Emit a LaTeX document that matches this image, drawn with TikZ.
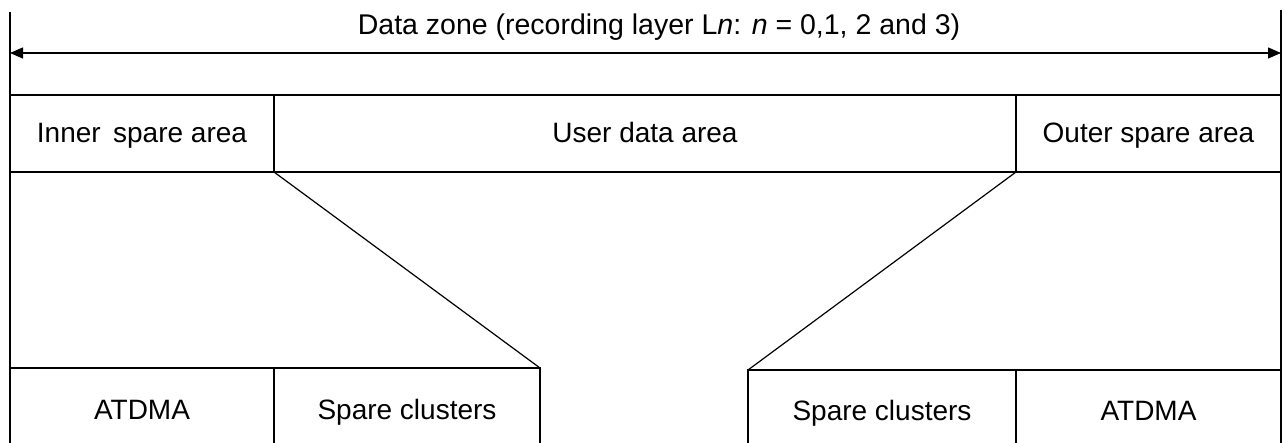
\documentclass[tikz,border=0pt]{standalone}
\usepackage{fontspec}
\setmainfont{Liberation Sans}
\usetikzlibrary{arrows.meta}
\begin{document}
\begin{tikzpicture}[x=1pt,y=-1pt,
  lbl/.style={font=\fontsize{28}{31}\selectfont, inner sep=0pt, outer sep=0pt, anchor=center},
  toparea/.style={lbl, rectangle, text height=20pt, text depth=1pt},
  botarea/.style={lbl, rectangle, text height=30pt, text depth=3pt},
  ln/.style={line width=1.5pt, line cap=rect},
  vln/.style={line width=2pt}]
\useasboundingbox (0,0) rectangle (1287,443);
% top row
\node[toparea, minimum width=264, minimum height=77] (inner) at (142,133.5) {Inner\, spare area};
\node[toparea, minimum width=742, minimum height=77] (user) at (645,133.5) {User data area};
\node[toparea, minimum width=265, minimum height=77] (outer) at (1148.5,133.5) {Outer spare area};
% bottom row
\node[botarea, minimum width=264, minimum height=75] (atdmaL) at (142,405.5) {ATDMA};
\node[botarea, minimum width=266, minimum height=75] (spareL) at (407,405.5) {Spare clusters};
\node[botarea, minimum width=268, minimum height=73] (spareR) at (882,406.5) {Spare clusters};
\node[botarea, minimum width=265, minimum height=73] (atdmaR) at (1148.5,406.5) {ATDMA};
% title
\node[lbl, font=\fontsize{28.5}{31}\selectfont, text height=20pt, text depth=0pt] (title) at (659,24.5) {Data zone (recording layer L\textit{n}: \textit{n} = 0,1, 2 and 3)};
% verticals
\coordinate (tl) at (10,12);
\coordinate (tr) at (1281,10);
\draw[vln] (tl) -- (atdmaL.south west);
\draw[vln] (tr) -- (atdmaR.south east);
% dimension arrow
\coordinate (al) at (10,53);
\coordinate (ar) at (1281,53);
\draw[line width=1.2pt, {Triangle[length=13pt,width=11pt]}-{Triangle[length=13pt,width=11pt]}] (al) -- (ar);
% top boxes
\draw[ln] (inner.north west) -- (outer.north east);
\draw[ln] (inner.south west) -- (outer.south east);
\draw[ln] (inner.north east) -- (inner.south east);
\draw[ln] (outer.north west) -- (outer.south west);
% bottom boxes
\draw[ln] (atdmaL.north west) -- (spareL.north east);
\draw[ln] (atdmaL.north east) -- (atdmaL.south east);
\draw[ln] (spareL.north east) -- (spareL.south east);
\draw[ln] (spareR.north west) -- (atdmaR.north east);
\draw[ln] (spareR.north west) -- (spareR.south west);
\draw[vln] (spareR.north east) -- (spareR.south east);
% expansion lines
\draw[line width=1.2pt] (inner.south east) -- (spareL.north east);
\draw[line width=1.2pt] (outer.south west) -- (spareR.north west);
\end{tikzpicture}
\end{document}
